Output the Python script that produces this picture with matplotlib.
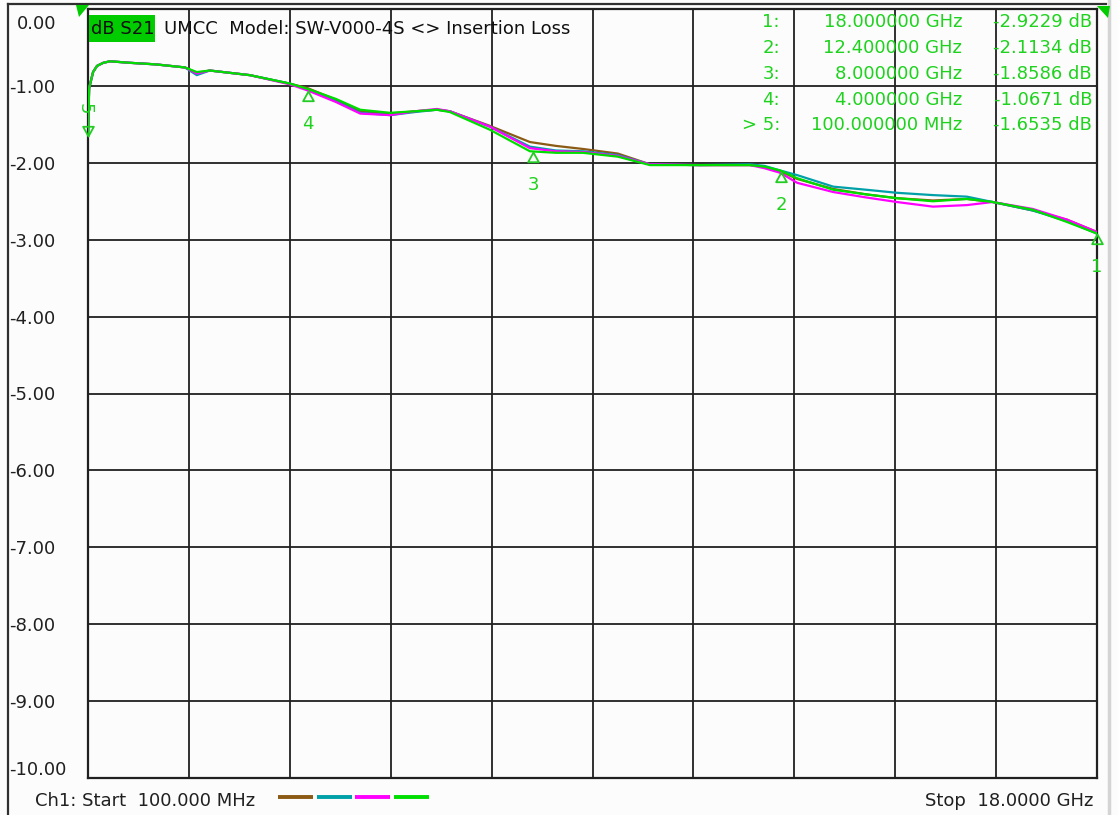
import matplotlib
matplotlib.use("Agg")
import matplotlib.pyplot as plt
from matplotlib.path import Path
from matplotlib.lines import Line2D
from matplotlib.patches import Polygon, Rectangle

W, H = 1118, 815

# ---------------- data ----------------
freq_ghz = [0.1, 0.12, 0.19, 0.26, 0.37, 0.49, 0.85, 1.3, 1.82, 2.03, 2.26, 2.97,
            3.68, 4.0, 4.5, 4.93, 5.46, 5.9, 6.29, 6.52, 7.23, 7.94, 8.4, 8.88,
            9.5, 10.07, 10.96, 11.84, 12.1, 12.38, 12.68, 13.32, 13.9, 14.45,
            15.09, 15.69, 16.15, 16.86, 17.47, 18.0]

start_db = [-1.65, -1.03, -0.82, -0.74, -0.70, -0.68, -0.70, -0.72, -0.76]

brown_db = start_db + [-0.83, -0.80, -0.86, -0.97, -1.03, -1.18, -1.33, -1.36, -1.33,
                       -1.31, -1.33, -1.52, -1.73, -1.78, -1.82, -1.88, -2.02, -2.03,
                       -2.03, -2.05, -2.11, -2.21, -2.34, -2.41, -2.46, -2.49, -2.47,
                       -2.51, -2.62, -2.74, -2.90]
cyan_db = start_db + [-0.86, -0.80, -0.86, -0.97, -1.05, -1.20, -1.35, -1.38, -1.34,
                      -1.31, -1.33, -1.53, -1.79, -1.84, -1.85, -1.90, -2.02, -2.03,
                      -2.02, -2.04, -2.10, -2.16, -2.31, -2.35, -2.39, -2.42, -2.44,
                      -2.51, -2.62, -2.76, -2.92]
magenta_db = start_db + [-0.84, -0.80, -0.86, -0.98, -1.06, -1.21, -1.36, -1.38, -1.33,
                         -1.30, -1.33, -1.53, -1.81, -1.85, -1.86, -1.91, -2.02, -2.03,
                         -2.03, -2.07, -2.13, -2.26, -2.38, -2.45, -2.51, -2.57, -2.55,
                         -2.51, -2.60, -2.74, -2.90]
green_db = start_db + [-0.82, -0.80, -0.86, -0.97, -1.04, -1.17, -1.31, -1.35, -1.33,
                       -1.31, -1.34, -1.57, -1.85, -1.87, -1.87, -1.92, -2.03, -2.03,
                       -2.03, -2.05, -2.10, -2.20, -2.35, -2.41, -2.46, -2.50, -2.47,
                       -2.51, -2.61, -2.77, -2.92]

trace_colors = ["#8b5a14", "#00a0a8", "#ff00ff", "#00dd00"]

marker_ids = ["1", "2", "3", "4", "5"]
marker_freq = [18.0, 12.4, 8.0, 4.0, 0.1]
marker_db = [-2.9229, -2.1134, -1.8586, -1.0671, -1.6535]
marker_freq_txt = ["18.000000 GHz", "12.400000 GHz", "8.000000 GHz", "4.000000 GHz", "100.000000 MHz"]
marker_val_txt = ["-2.9229 dB", "-2.1134 dB", "-1.8586 dB", "-1.0671 dB", "-1.6535 dB"]
marker_row_lbl = ["1:", "2:", "3:", "4:", "> 5:"]

y_ticks = [0, -1, -2, -3, -4, -5, -6, -7, -8, -9, -10]
y_tick_labels = ["0.00", "-1.00", "-2.00", "-3.00", "-4.00", "-5.00", "-6.00",
                 "-7.00", "-8.00", "-9.00", "-10.00"]

title_box = "dB S21"
title_text = "UMCC  Model: SW-V000-4S <> Insertion Loss"
start_text = "Ch1: Start  100.000 MHz"
stop_text = "Stop  18.0000 GHz"

# ---------------- layout ----------------
FONT = "DejaVu Sans"
FS = 13
GREEN_TXT = "#1ed21e"

fig = plt.figure(figsize=(W / 100, H / 100), dpi=100)
fig.patch.set_facecolor("#fcfcfc")


def fx(x):
    return x / W


def fy(y):
    return 1 - y / H


ax_l, ax_r, ax_t, ax_b = 88, 1097, 9, 778
ax = fig.add_axes([fx(ax_l), fy(ax_b), (ax_r - ax_l) / W, (ax_b - ax_t) / H])
ax.set_facecolor("#fcfcfc")
ax.set_xlim(0.1, 18.0)
ax.set_ylim(-10, 0)

# grid
xs_grid = [0.1 + 17.9 * i / 10 for i in range(1, 10)]
for xg in xs_grid:
    ax.axvline(xg, color="#202020", lw=1.3, zorder=1)
for yg in y_ticks[1:-1]:
    ax.axhline(yg, color="#202020", lw=1.3, zorder=1)
for s in ax.spines.values():
    s.set_color("#202020")
    s.set_linewidth(1.6)
ax.set_xticks([])
ax.set_yticks([])

# traces
for ys, c in zip([brown_db, cyan_db, magenta_db, green_db], trace_colors):
    ax.plot(freq_ghz, ys, color=c, lw=1.6, zorder=3, solid_joinstyle="round")

# marker triangles (tip at trace point)
tri_up = Path([(0, 0), (-0.55, -1.0), (0.55, -1.0), (0, 0)],
              [Path.MOVETO, Path.LINETO, Path.LINETO, Path.CLOSEPOLY])
tri_dn = Path([(0, 0), (-0.55, 1.0), (0.55, 1.0), (0, 0)],
              [Path.MOVETO, Path.LINETO, Path.LINETO, Path.CLOSEPOLY])
for mid, mf, md in zip(marker_ids, marker_freq, marker_db):
    if mid == "5":
        ax.plot([mf], [md], marker=tri_dn, ms=14, mfc="none", mec="#22cc22",
                mew=1.3, zorder=5, clip_on=False)
        ax.annotate(mid, (mf, md), xytext=(-3, 27), textcoords="offset pixels",
                    ha="center", va="center", color=GREEN_TXT, fontsize=FS,
                    family=FONT, rotation=-90, annotation_clip=False)
    else:
        ax.plot([mf], [md], marker=tri_up, ms=14, mfc="none", mec="#22cc22",
                mew=1.3, zorder=5, clip_on=False)
        ax.annotate(mid, (mf, md), xytext=(0, -33), textcoords="offset pixels",
                    ha="center", va="center", color=GREEN_TXT, fontsize=FS,
                    family=FONT, annotation_clip=False)

# y labels
for yv, lab in zip(y_ticks, y_tick_labels):
    ypix = ax_t + (-yv) * (ax_b - ax_t) / 10
    if yv == 0:
        ypix += 15
        xpix = 17
    elif yv == -10:
        ypix -= 8
        xpix = 9
    else:
        ypix += 2
        xpix = 9
    fig.text(fx(xpix), fy(ypix), lab, ha="left", va="center", fontsize=FS,
             family=FONT, color="#202020")

# title
fig.patches.append(Rectangle((fx(89), fy(42)), (155 - 89) / W, 27 / H,
                             transform=fig.transFigure, facecolor="#00cc00",
                             edgecolor="none", zorder=5))
fig.text(fx(91), fy(29), title_box, ha="left", va="center", fontsize=FS,
         family=FONT, color="#101010", zorder=6)
fig.text(fx(164), fy(29), title_text, ha="left", va="center", fontsize=FS,
         family=FONT, color="#101010", zorder=6)

# marker table
row_y = [22, 48, 74, 100, 125]
for ry, a, b, c in zip(row_y, marker_row_lbl, marker_freq_txt, marker_val_txt):
    fig.text(fx(780), fy(ry), a, ha="right", va="center", fontsize=FS,
             family=FONT, color=GREEN_TXT, zorder=6)
    fig.text(fx(962), fy(ry), b, ha="right", va="center", fontsize=FS,
             family=FONT, color=GREEN_TXT, zorder=6)
    fig.text(fx(1092), fy(ry), c, ha="right", va="center", fontsize=FS,
             family=FONT, color=GREEN_TXT, zorder=6)

# bottom texts
fig.text(fx(35), fy(801), start_text, ha="left", va="center", fontsize=FS,
         family=FONT, color="#202020")
fig.text(fx(1093), fy(801), stop_text, ha="right", va="center", fontsize=FS,
         family=FONT, color="#202020")
for i, c in enumerate(trace_colors):
    x0 = 278 + i * 38.5
    fig.lines.append(Line2D([fx(x0), fx(x0 + 35)], [fy(797), fy(797)],
                            transform=fig.transFigure, color=c, lw=2.8,
                            solid_capstyle="butt"))

# small reference triangles
fig.patches.append(Polygon([(fx(76), fy(5)), (fx(89), fy(5)), (fx(79), fy(17))],
                           closed=True, transform=fig.transFigure,
                           facecolor="#00cc00", edgecolor="none", zorder=7))
fig.patches.append(Polygon([(fx(1097), fy(6)), (fx(1110), fy(6)), (fx(1108), fy(18))],
                           closed=True, transform=fig.transFigure,
                           facecolor="#00cc00", edgecolor="none", zorder=7))

# outer frame
fig.lines.append(Line2D([fx(8), fx(8)], [fy(4), fy(815)], transform=fig.transFigure,
                        color="#303030", lw=1.6))
fig.lines.append(Line2D([fx(8), fx(1106)], [fy(4), fy(4)], transform=fig.transFigure,
                        color="#303030", lw=1.6))
fig.lines.append(Line2D([fx(1109), fx(1109)], [fy(0), fy(815)], transform=fig.transFigure,
                        color="#d4d4d4", lw=2.5))

fig.savefig("out.png", dpi=100, facecolor=fig.get_facecolor())
